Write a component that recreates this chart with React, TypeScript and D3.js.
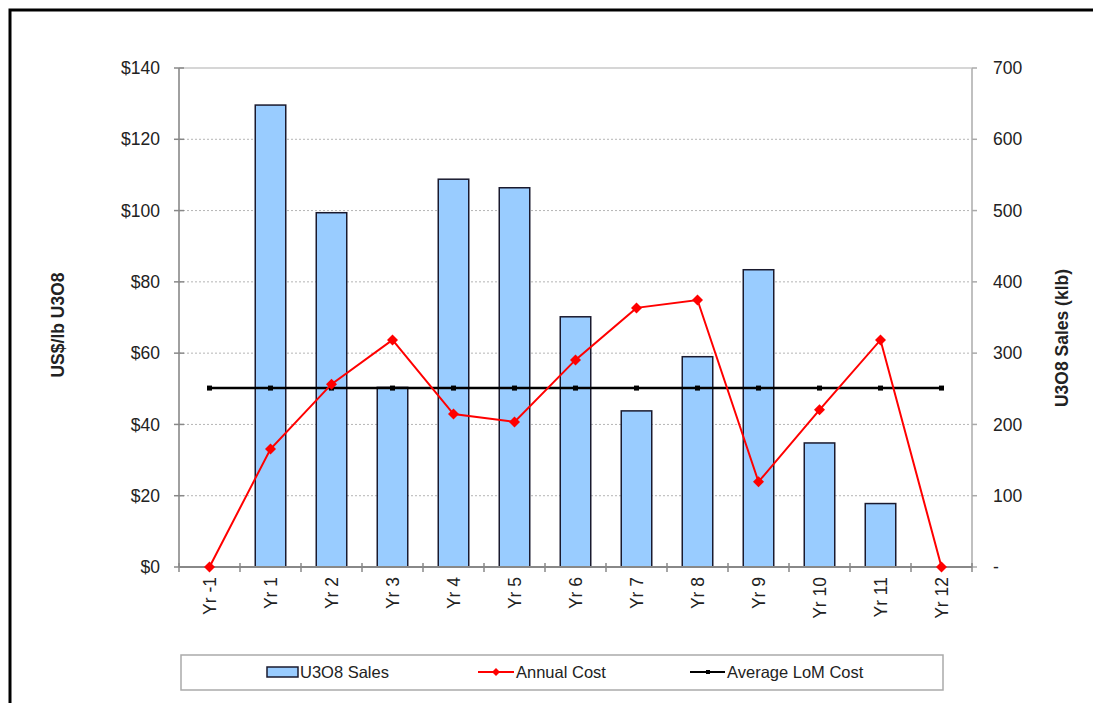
import React from "react";
import * as d3 from "d3";

const categories = ["Yr -1", "Yr 1", "Yr 2", "Yr 3", "Yr 4", "Yr 5", "Yr 6", "Yr 7", "Yr 8", "Yr 9", "Yr 10", "Yr 11", "Yr 12"];
const salesKlb = [0, 648, 497, 252, 544, 532, 351, 219, 295, 417, 174, 89, 0];
const annualCost = [0, 33.1, 51.3, 63.7, 42.9, 40.7, 58.1, 72.7, 74.9, 23.9, 44.1, 63.7, 0];
const avgLoMCost = [50.2, 50.2, 50.2, 50.2, 50.2, 50.2, 50.2, 50.2, 50.2, 50.2, 50.2, 50.2, 50.2];
const leftTicks = [0, 20, 40, 60, 80, 100, 120, 140];
const rightTicks = [0, 100, 200, 300, 400, 500, 600, 700];
const legendLabels = ["U3O8 Sales", "Annual Cost", "Average LoM Cost"];

const FONT = "'Liberation Sans', Arial, sans-serif";

export default function App() {
  const L = 179, R = 972, T = 68, B = 567;
  const x = d3.scaleBand<string>().domain(categories).range([L, R]).paddingInner(0.5).paddingOuter(0.25);
  const yL = d3.scaleLinear().domain([0, 140]).range([B, T]);
  const yR = d3.scaleLinear().domain([0, 700]).range([B, T]);
  const step = x.step();
  const cx = (c: string) => (x(c) as number) + x.bandwidth() / 2;

  const costLine = d3.line<number>().x((_, i) => cx(categories[i])).y((d) => yL(d));
  const fontSize = 17.5;
  const legFont = 16.5;

  return (
    <svg width={1093} height={703} style={{ position: "absolute", left: 0, top: 0, background: "#fff" }} fontFamily={FONT}>
      <rect x={0} y={0} width={1093} height={703} fill="#fff" />
      <rect x={10} y={10} width={1200} height={800} fill="none" stroke="#000" strokeWidth={3} />

      {/* gridlines */}
      {leftTicks.filter((t) => t > 0 && t < 140).map((t) => (
        <line key={"g" + t} x1={L} x2={R} y1={yL(t)} y2={yL(t)} stroke="#b5b5b5" strokeWidth={1} strokeDasharray="2,2" />
      ))}
      <line x1={L} x2={R} y1={T} y2={T} stroke="#c8c8c8" strokeWidth={1.5} />

      {/* bars */}
      {categories.map((c, i) =>
        salesKlb[i] > 0 ? (
          <rect key={"b" + c} x={x(c)} y={yR(salesKlb[i])} width={x.bandwidth()} height={B - yR(salesKlb[i])} fill="#99ccff" stroke="#1a1a2e" strokeWidth={1.5} />
        ) : null
      )}

      {/* axes */}
      <line x1={L} x2={L} y1={T} y2={B} stroke="#a0a0a0" strokeWidth={2} />
      <line x1={R} x2={R} y1={T} y2={B} stroke="#c0c0c0" strokeWidth={2} />
      <line x1={L} x2={R} y1={B} y2={B} stroke="#888" strokeWidth={2} />
      {leftTicks.map((t) => (
        <g key={"lt" + t}>
          <line x1={L - 5} x2={L + 5} y1={yL(t)} y2={yL(t)} stroke="#888" strokeWidth={1.5} />
          <text x={L - 19} y={yL(t)} dy="0.35em" textAnchor="end" fontSize={fontSize} fill="#222">{"$" + t}</text>
        </g>
      ))}
      {rightTicks.map((t) => (
        <g key={"rt" + t}>
          <line x1={R} x2={R + 5} y1={yR(t)} y2={yR(t)} stroke="#aaa" strokeWidth={1.5} />
          <text x={R + 21} y={yR(t)} dy="0.35em" textAnchor="start" fontSize={fontSize} fill="#222">{t === 0 ? "-" : String(t)}</text>
        </g>
      ))}
      {d3.range(categories.length + 1).map((i) => (
        <line key={"xt" + i} x1={L + i * step} x2={L + i * step} y1={B - 4} y2={B + 5} stroke="#888" strokeWidth={1.5} />
      ))}
      {categories.map((c) => (
        <text key={"xl" + c} transform={`translate(${cx(c)},${B + 10}) rotate(-90)`} textAnchor="end" dy="0.35em" fontSize={fontSize} fill="#222">{c}</text>
      ))}

      {/* axis titles */}
      <text transform={`translate(58,325) rotate(-90)`} textAnchor="middle" dy="0.35em" fontSize={17.5} fontWeight="bold" fill="#222">US$/lb U3O8</text>
      <text transform={`translate(1062,338) rotate(-90)`} textAnchor="middle" dy="0.35em" fontSize={17.5} fontWeight="bold" fill="#222">U3O8 Sales (klb)</text>

      {/* average line */}
      <path d={costLine(avgLoMCost) as string} fill="none" stroke="#000" strokeWidth={2.5} />
      {avgLoMCost.map((v, i) => (
        <rect key={"am" + i} x={cx(categories[i]) - 2.5} y={yL(v) - 2.5} width={5} height={5} fill="#000" />
      ))}

      {/* annual cost line */}
      <path d={costLine(annualCost) as string} fill="none" stroke="#ff0000" strokeWidth={2} />
      {annualCost.map((v, i) => (
        <path key={"cm" + i} d="M0,-5.5L5.5,0L0,5.5L-5.5,0Z" transform={`translate(${cx(categories[i])},${yL(v)})`} fill="#ff0000" />
      ))}

      {/* legend */}
      <rect x={181} y={655} width={762} height={35} fill="#fff" stroke="#aaa" strokeWidth={1.5} />
      <rect x={267} y={667} width={31} height={10} fill="#99ccff" stroke="#1a1a2e" strokeWidth={1.5} />
      <text x={300} y={672} dy="0.35em" fontSize={legFont} fill="#222">{legendLabels[0]}</text>
      <line x1={478} x2={514} y1={672} y2={672} stroke="#ff0000" strokeWidth={2} />
      <path d="M0,-4L4,0L0,4L-4,0Z" transform="translate(496,672)" fill="#ff0000" />
      <text x={516} y={672} dy="0.35em" fontSize={legFont} fill="#222">{legendLabels[1]}</text>
      <line x1={690} x2={725} y1={672} y2={672} stroke="#000" strokeWidth={2} />
      <rect x={706} y={670} width={4} height={4} fill="#000" />
      <text x={727} y={672} dy="0.35em" fontSize={legFont} fill="#222">{legendLabels[2]}</text>
    </svg>
  );
}
